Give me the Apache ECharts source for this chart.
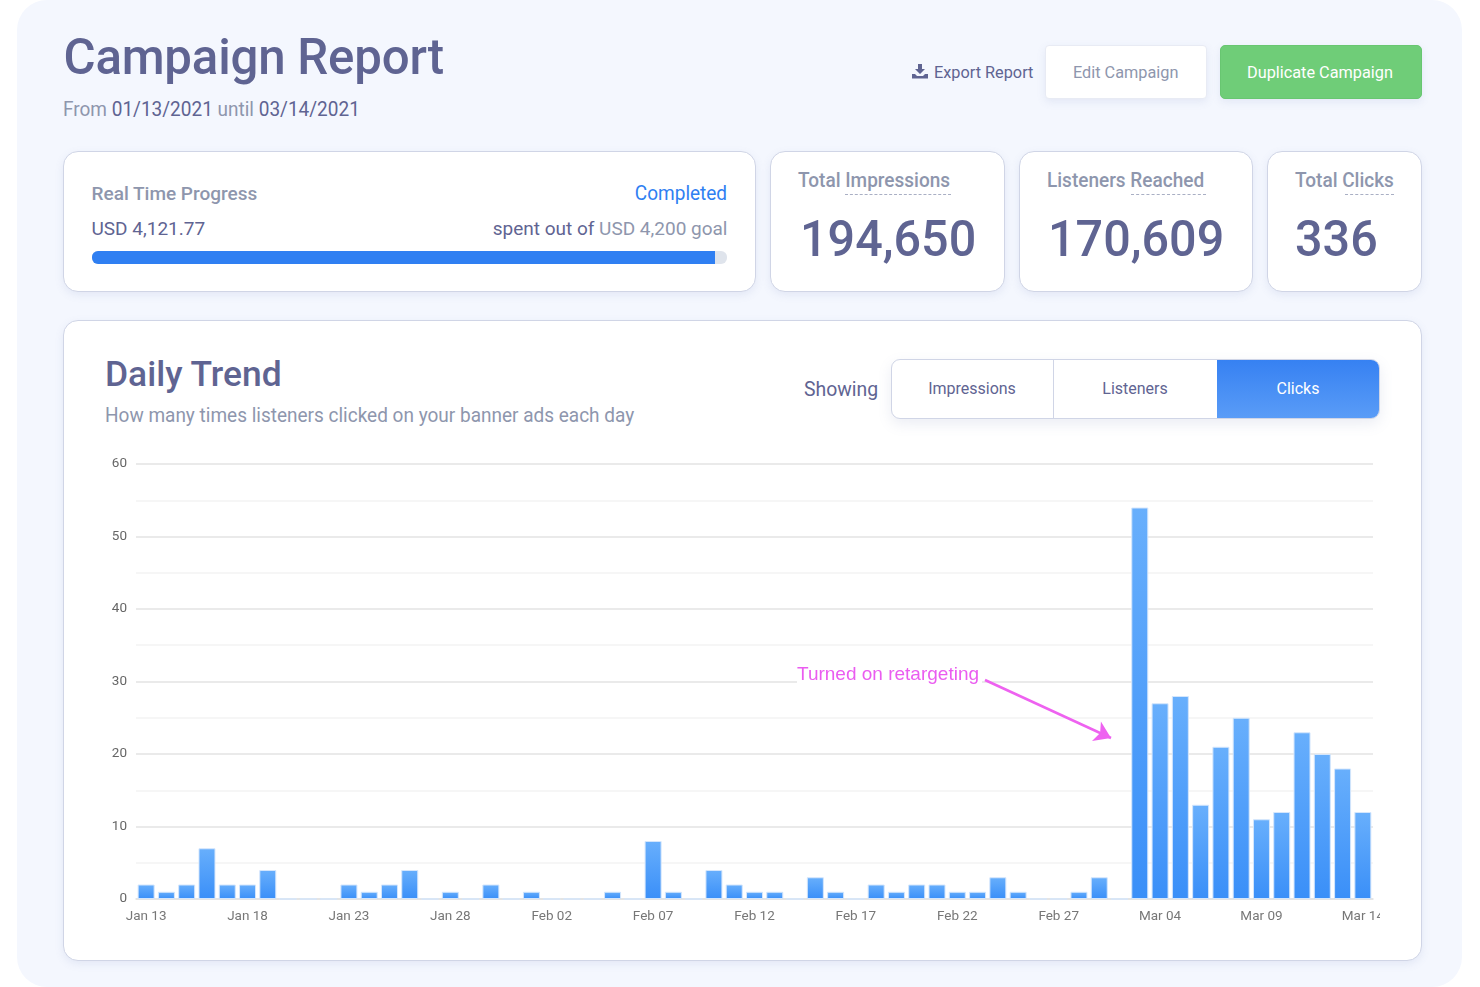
<!DOCTYPE html>
<html>
<head>
<meta charset="utf-8">
<title>Campaign Report</title>
<script src="https://cdn.jsdelivr.net/npm/echarts@6/dist/echarts.min.js"></script>
<style>
  html, body { margin: 0; padding: 0; width: 1480px; height: 987px; overflow: hidden; background: #fff; font-family: Roboto, sans-serif; }
  #panel { position: absolute; left: 17px; top: 0; width: 1445px; height: 987px; background: #f4f7fe; border-radius: 30px; }
  .box { position: absolute; box-sizing: border-box; background: #fff; border: 1.5px solid #d0d5e6; border-radius: 15px; box-shadow: 0 3px 8px rgba(110,125,180,.12); }
  .t { position: absolute; white-space: nowrap; transform: translateY(-50%); color: #5f6492; }
  .nar { transform: translateY(-50%) scaleX(.95); transform-origin: left center; }
  .narr { transform: translateY(-50%) scaleX(.95); transform-origin: right center; }
  .val { transform: translateY(-50%) scaleX(.97); transform-origin: left center; }
  .grey { color: #8e96ad; }
  .dash { position: absolute; border-top: 1.5px dashed #a9afc4; height: 0; }
  #chart { position: absolute; left: 100px; top: 440px; width: 1280px; height: 500px; }
</style>
</head>
<body>
<div id="panel"></div>

<div class="t" style="left:63.5px;top:57px;font-size:49.2px;font-weight:500;letter-spacing:-.2px">Campaign Report</div>
<div class="t grey nar" style="left:63px;top:109px;font-size:20px"><span>From</span> <span style="color:#5f6492">01/13/2021</span> until <span style="color:#5f6492">03/14/2021</span></div>

<svg style="position:absolute;left:912px;top:64px" width="16" height="15" viewBox="0 0 16 15"><path fill="#5f6492" d="M6 0h4v5h3l-5 5-5-5h3zM0 10h3l2 2h6l2-2h3v4.5H0z"/></svg>
<div class="t" style="left:934px;top:72px;font-size:16.3px">Export Report</div>
<div class="box" style="left:1045px;top:45px;width:162px;height:54px;border-radius:4px;border-color:#e8ebf4"></div>
<div class="t grey" style="left:1073px;top:72px;font-size:16.3px">Edit Campaign</div>
<div class="box" style="left:1220px;top:45px;width:202px;height:54px;border-radius:5px;background:#6fcd78;border-color:#68c671"></div>
<div class="t" style="left:1247px;top:72px;font-size:16.3px;color:#fff">Duplicate Campaign</div>

<div class="box" style="left:63px;top:151px;width:693px;height:141px"></div>
<div class="t grey" style="left:91.5px;top:192.5px;font-size:19px;font-weight:500">Real Time Progress</div>
<div class="t narr" style="right:752.5px;top:192.5px;font-size:20px;color:#2f80f2">Completed</div>
<div class="t" style="left:91.5px;top:227.5px;font-size:19px">USD 4,121.77</div>
<div class="t" style="right:752.5px;top:227.5px;font-size:19px">spent out of <span class="grey">USD 4,200 goal</span></div>
<div style="position:absolute;left:92px;top:251px;width:635px;height:13px;border-radius:6px;background:#dfe4ec;overflow:hidden"><div style="width:98.1%;height:100%;background:#2f7ff2"></div></div>

<div class="box" style="left:770px;top:151px;width:235px;height:141px"></div>
<div class="t grey nar" style="left:798px;top:180px;font-size:20px;font-weight:500">Total Impressions</div>
<div class="dash" style="left:845px;top:194px;width:106px"></div>
<div class="t val" style="left:799.5px;top:238.5px;font-size:50px;font-weight:500">194,650</div>

<div class="box" style="left:1018.5px;top:151px;width:234.5px;height:141px"></div>
<div class="t grey nar" style="left:1047px;top:180px;font-size:20px;font-weight:500">Listeners Reached</div>
<div class="dash" style="left:1131px;top:194px;width:75px"></div>
<div class="t val" style="left:1047.5px;top:238.5px;font-size:50px;font-weight:500">170,609</div>

<div class="box" style="left:1267px;top:151px;width:155px;height:141px"></div>
<div class="t grey nar" style="left:1295px;top:180px;font-size:20px;font-weight:500">Total Clicks</div>
<div class="dash" style="left:1345px;top:194px;width:49px"></div>
<div class="t val" style="left:1295px;top:238.5px;font-size:50px;font-weight:500">336</div>

<div class="box" style="left:63px;top:320px;width:1359px;height:641px"></div>
<div class="t" style="left:105px;top:374px;font-size:35.4px;font-weight:500">Daily Trend</div>
<div class="t grey nar" style="left:105px;top:415px;font-size:20px">How many times listeners clicked on your banner ads each day</div>
<div class="t" style="left:804px;top:389px;font-size:19.4px">Showing</div>

<div class="box" style="left:891px;top:359px;width:489px;height:60px;border-radius:9px;overflow:hidden;box-shadow:0 5px 14px rgba(110,125,180,.14)">
  <div style="position:absolute;left:161px;top:0;width:0;height:100%;border-left:1.5px solid #d0d5e6"></div>
  <div style="position:absolute;left:325px;top:-2px;right:-2px;bottom:-2px;background:linear-gradient(#3580f2,#5b9df7)"></div>
</div>
<div class="t" style="left:972px;top:388px;font-size:16px;transform:translate(-50%,-50%)">Impressions</div>
<div class="t" style="left:1135px;top:388px;font-size:16px;transform:translate(-50%,-50%)">Listeners</div>
<div class="t" style="left:1298px;top:388px;font-size:16px;color:#fff;transform:translate(-50%,-50%)">Clicks</div>

<div id="chart"></div>

<script>
const days = [
  "Jan 13","Jan 14","Jan 15","Jan 16","Jan 17","Jan 18","Jan 19","Jan 20","Jan 21","Jan 22",
  "Jan 23","Jan 24","Jan 25","Jan 26","Jan 27","Jan 28","Jan 29","Jan 30","Jan 31","Feb 01",
  "Feb 02","Feb 03","Feb 04","Feb 05","Feb 06","Feb 07","Feb 08","Feb 09","Feb 10","Feb 11",
  "Feb 12","Feb 13","Feb 14","Feb 15","Feb 16","Feb 17","Feb 18","Feb 19","Feb 20","Feb 21",
  "Feb 22","Feb 23","Feb 24","Feb 25","Feb 26","Feb 27","Feb 28","Mar 01","Mar 02","Mar 03",
  "Mar 04","Mar 05","Mar 06","Mar 07","Mar 08","Mar 09","Mar 10","Mar 11","Mar 12","Mar 13","Mar 14"
];
const clicks = [
  2,1,2,7,2,2,4,0,0,0,
  2,1,2,4,0,1,0,2,0,1,
  0,0,0,1,0,8,1,0,4,2,
  1,1,0,3,1,0,2,1,2,2,
  1,1,3,1,0,0,1,3,0,54,
  27,28,13,21,25,11,12,23,20,18,12
];

const chart = echarts.init(document.getElementById("chart"));
chart.setOption({
  animation: false,
  grid: { left: 36, right: 7, top: 24, bottom: 41, outerBoundsMode: "none" },
  xAxis: {
    type: "category",
    data: days,
    axisTick: { show: false },
    axisLine: { show: true, lineStyle: { color: "#e2e2e2", width: 1.5 } },
    axisLabel: { interval: 4, color: "#777", fontSize: 13.5, fontFamily: "Roboto", margin: 11, hideOverlap: false },
  },
  yAxis: {
    type: "value",
    min: 0,
    max: 60,
    interval: 10,
    axisLabel: { color: "#666", fontSize: 13.5, fontFamily: "Roboto", margin: 9 },
    splitLine: { lineStyle: { color: "#e3e3e3", width: 1.5 } },
    minorTick: { show: false, splitNumber: 2 },
    minorSplitLine: { show: true, lineStyle: { color: "#f3f3f3", width: 1.5 } },
  },
  series: [{
    type: "bar",
    data: clicks,
    barWidth: 17,
    itemStyle: {
      borderColor: "#d4e6fc",
      borderWidth: 1,
      color: new echarts.graphic.LinearGradient(0, 0, 0, 1, [
        { offset: 0, color: "#68affc" },
        { offset: 1, color: "#3a8ff8" },
      ]),
    },
    markLine: {
      silent: true,
      symbol: ["none", "arrow"],
      symbolSize: 16,
      label: { show: false },
      lineStyle: { color: "#ee62f0", width: 2.5, type: "solid" },
      data: [[{ x: 885, y: 240 }, { x: 1011, y: 298 }]],
    },
  }],
  graphic: [{
    type: "text",
    left: 697,
    top: 224,
    z: 100,
    style: {
      text: "Turned on retargeting",
      fill: "#ea5cf0",
      font: "19px 'Liberation Sans'",
      backgroundColor: "#fff",
      padding: [1, 3, 1, 0],
    },
  }],
});
</script>
</body>
</html>
